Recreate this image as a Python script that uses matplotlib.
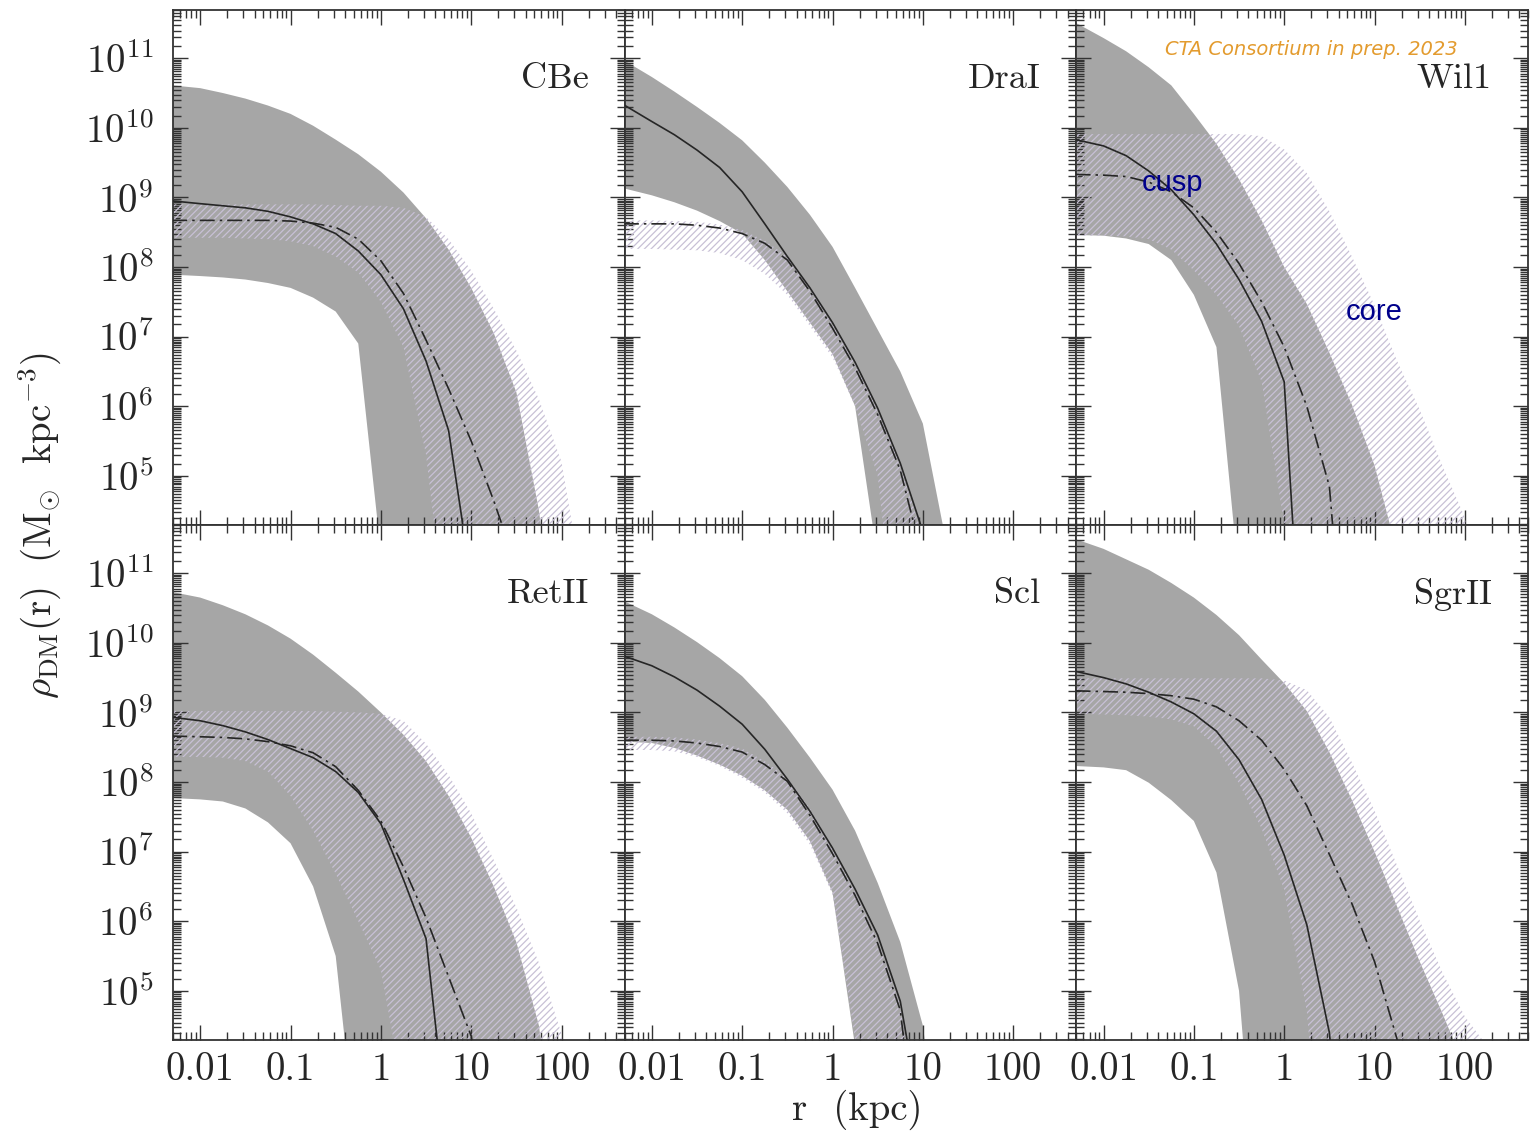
import numpy as np
import matplotlib
matplotlib.use("Agg")
import matplotlib.pyplot as plt
from matplotlib.ticker import LogLocator, NullFormatter

plt.rcParams['font.family'] = 'cmr10'
plt.rcParams['mathtext.fontset'] = 'cm'
plt.rcParams['axes.formatter.use_mathtext'] = True
plt.rcParams['axes.unicode_minus'] = False
plt.rcParams['hatch.linewidth'] = 0.9

# log10(r / kpc) grid shared by every curve
LOG_R = [-2.31, -2.0, -1.75, -1.5, -1.25, -1.0, -0.75, -0.5, -0.25, 0.0, 0.25,
         0.5, 0.75, 1.0, 1.25, 1.5, 1.75, 2.0, 2.25, 2.5, 2.71]

GALAXIES = ['CBe', 'DraI', 'Wil1', 'RetII', 'Scl', 'SgrII']

# log10(rho_DM / Msun kpc^-3); a list that is shorter than
# LOG_R ends below the plot floor and keeps its last value
CUSP_HI = {
    'CBe':   [10.61, 10.57, 10.5, 10.42, 10.32, 10.2, 10.03, 9.83, 9.62, 9.37, 9.07, 8.7, 8.25, 7.7, 7.05, 6.2, 4.5, 2.0],
    'DraI':  [10.97, 10.73, 10.52, 10.3, 10.07, 9.82, 9.5, 9.15, 8.75, 8.29, 7.7, 7.1, 6.5, 5.75, 4.1, 1.0],
    'Wil1':  [11.51, 11.29, 11.1, 10.87, 10.61, 10.2, 9.77, 9.26, 8.67, 8.0, 7.47, 6.77, 6.02, 5.15, 3.9, 1.0],
    'RetII': [10.73, 10.65, 10.54, 10.41, 10.25, 10.06, 9.83, 9.57, 9.3, 9.0, 8.68, 8.3, 7.8, 7.2, 6.5, 5.7, 4.5, 2.0],
    'Scl':   [10.6, 10.41, 10.22, 10.01, 9.78, 9.52, 9.18, 8.78, 8.35, 7.89, 7.3, 6.55, 5.7, 4.5, 2.0],
    'SgrII': [11.49, 11.35, 11.2, 11.05, 10.86, 10.65, 10.4, 10.11, 9.76, 9.42, 9.02, 8.43, 7.74, 7.0, 6.21, 5.42, 4.68, 3.9, 1.0],
}
CUSP_LO = {
    'CBe':   [7.89, 7.87, 7.85, 7.82, 7.77, 7.7, 7.56, 7.36, 6.9, 3.9, 1.0],
    'DraI':  [9.13, 9.03, 8.93, 8.81, 8.66, 8.48, 8.1, 7.65, 7.2, 6.75, 6.0, 3.8, 1.0],
    'Wil1':  [8.46, 8.45, 8.41, 8.33, 8.1, 7.6, 6.85, 3.5, 1.0],
    'RetII': [7.77, 7.75, 7.72, 7.62, 7.42, 7.12, 6.5, 5.5, 2.5, 1.0],
    'Scl':   [8.58, 8.56, 8.49, 8.38, 8.25, 8.09, 7.88, 7.6, 7.15, 6.41, 4.2, 1.0],
    'SgrII': [8.23, 8.21, 8.17, 7.99, 7.74, 7.44, 6.7, 5.0, 1.0],
}
CORE_HI = {
    'CBe':   [8.9, 8.9, 8.9, 8.9, 8.9, 8.9, 8.9, 8.89, 8.88, 8.88, 8.85, 8.72, 8.4, 7.95, 7.4, 6.8, 6.1, 5.2, 3.3, 1.0],
    'DraI':  [8.67, 8.67, 8.66, 8.65, 8.61, 8.53, 8.38, 8.15, 7.72, 7.2, 6.62, 5.97, 5.2, 4.1, 1.0],
    'Wil1':  [9.91, 9.91, 9.91, 9.91, 9.91, 9.91, 9.91, 9.91, 9.88, 9.69, 9.35, 8.8, 8.15, 7.45, 6.65, 5.95, 5.15, 4.4, 2.0],
    'RetII': [9.02, 9.02, 9.02, 9.02, 9.02, 9.02, 9.02, 9.01, 9.0, 8.98, 8.88, 8.55, 8.1, 7.55, 6.88, 6.2, 5.4, 4.38, 2.0],
    'Scl':   [8.65, 8.65, 8.64, 8.61, 8.56, 8.48, 8.3, 8.06, 7.62, 7.05, 6.42, 5.72, 4.8, 2.5],
    'SgrII': [9.49, 9.49, 9.49, 9.49, 9.49, 9.49, 9.49, 9.49, 9.49, 9.46, 9.32, 8.93, 8.28, 7.59, 6.8, 6.01, 5.27, 4.63, 4.2, 2.0],
}
CORE_LO = {
    'CBe':   [8.42, 8.42, 8.42, 8.41, 8.4, 8.37, 8.3, 8.15, 7.92, 7.5, 6.85, 5.3, 2.5, 1.0],
    'DraI':  [8.26, 8.26, 8.25, 8.24, 8.2, 8.1, 7.9, 7.6, 7.15, 6.7, 6.0, 5.0, 2.0],
    'Wil1':  [8.45, 8.45, 8.44, 8.4, 8.25, 7.95, 7.6, 7.15, 6.35, 4.3, 1.0],
    'RetII': [8.36, 8.36, 8.35, 8.3, 8.15, 7.8, 7.3, 6.68, 6.0, 5.3, 3.5, 1.0],
    'Scl':   [8.46, 8.46, 8.44, 8.36, 8.23, 8.06, 7.85, 7.55, 7.1, 6.38, 4.3, 1.0],
    'SgrII': [8.98, 8.97, 8.96, 8.94, 8.9, 8.8, 8.5, 7.98, 7.33, 6.45, 4.7, 1.0],
}
CUSP_MED = {
    'CBe':   [8.95, 8.91, 8.88, 8.85, 8.8, 8.72, 8.62, 8.48, 8.23, 7.89, 7.4, 6.65, 5.65, 3.5, 1.0],
    'DraI':  [10.33, 10.09, 9.9, 9.68, 9.43, 9.08, 8.62, 8.15, 7.7, 7.2, 6.63, 5.97, 5.18, 4.2, 1.0],
    'Wil1':  [9.83, 9.74, 9.6, 9.38, 9.11, 8.75, 8.33, 7.82, 7.22, 6.35, 1.0],
    'RetII': [8.93, 8.88, 8.81, 8.72, 8.61, 8.48, 8.35, 8.15, 7.85, 7.4, 6.6, 5.75, 2.8, 1.0],
    'Scl':   [9.81, 9.67, 9.51, 9.32, 9.09, 8.83, 8.47, 8.04, 7.58, 7.05, 6.46, 5.8, 4.85, 3.0],
    'SgrII': [9.59, 9.5, 9.41, 9.29, 9.15, 8.98, 8.73, 8.32, 7.75, 6.95, 5.95, 4.4, 1.0],
}
CORE_MED = {
    'CBe':   [8.67, 8.67, 8.67, 8.67, 8.67, 8.66, 8.63, 8.57, 8.4, 8.09, 7.62, 6.95, 6.25, 5.5, 4.64, 3.7, 1.0],
    'DraI':  [8.62, 8.62, 8.62, 8.6, 8.56, 8.48, 8.34, 8.1, 7.65, 7.12, 6.55, 5.88, 5.08, 3.8, 1.0],
    'Wil1':  [9.33, 9.32, 9.3, 9.22, 9.08, 8.85, 8.5, 8.05, 7.5, 6.85, 6.0, 4.85, 1.0],
    'RetII': [8.66, 8.65, 8.64, 8.62, 8.58, 8.52, 8.42, 8.22, 7.88, 7.44, 6.78, 6.05, 5.2, 4.35, 2.0],
    'Scl':   [8.6, 8.6, 8.59, 8.56, 8.51, 8.43, 8.25, 8.01, 7.52, 6.97, 6.37, 5.68, 4.72, 2.0],
    'SgrII': [9.31, 9.3, 9.29, 9.27, 9.24, 9.19, 9.08, 8.88, 8.6, 8.18, 7.66, 6.96, 6.25, 5.42, 4.3, 2.0],
}

XTICKS = [0.01, 0.1, 1, 10, 100]
XTICK_LABELS = ['0.01', '0.1', '1', '10', '100']
YTICKS = [1e5, 1e6, 1e7, 1e8, 1e9, 1e10, 1e11]
YTICK_LABELS = [r'$10^{5}$', r'$10^{6}$', r'$10^{7}$', r'$10^{8}$',
                r'$10^{9}$', r'$10^{10}$', r'$10^{11}$']

GRAY = '#a6a6a6'
HATCH = '#c8c0d6'
INK = '#262626'


def full(vals):
    # pad a curve to the whole grid with its last (off-plot) value
    vals = list(vals) + [vals[-1]] * (len(LOG_R) - len(vals))
    return 10.0 ** np.array(vals)


r = 10.0 ** np.array(LOG_R)

fig, axes = plt.subplots(2, 3, figsize=(15.3, 11.34), dpi=100, sharex=True, sharey=True)
fig.subplots_adjust(left=173 / 1530, right=1528 / 1530, top=1 - 9.5 / 1134,
                    bottom=1 - 1039.5 / 1134, wspace=0, hspace=0)

for ax, name in zip(axes.flat, GALAXIES):
    ax.fill_between(r, full(CUSP_LO[name]), full(CUSP_HI[name]),
                    facecolor=GRAY, linewidth=0, zorder=1)
    ax.fill_between(r, full(CORE_LO[name]), full(CORE_HI[name]),
                    facecolor='none', edgecolor=HATCH, hatch='/////',
                    linewidth=0, zorder=2)
    ax.plot(r, full(CUSP_MED[name]), color=INK, lw=1.2, zorder=3)
    ax.plot(r, full(CORE_MED[name]), color=INK, lw=1.2,
            ls=(0, (9, 3, 1.5, 3)), zorder=3)
    ax.text(0.92, 0.865, name, transform=ax.transAxes, ha='right', va='center',
            fontsize=26, color=INK)

    ax.set_xscale('log')
    ax.set_yscale('log')
    for sp in ax.spines.values():
        sp.set_linewidth(1.3)
        sp.set_color('#333333')
    ax.tick_params(which='both', direction='in', top=True, right=True,
                   color='#333333', width=1.0, labelsize=28, labelcolor=INK)
    ax.tick_params(which='major', length=11)
    ax.tick_params(which='minor', length=5.5)
    ax.tick_params(axis='x', pad=9)
    ax.tick_params(axis='y', pad=14)

ax0 = axes[1, 0]
ax0.set_xlim(0.005, 500)
ax0.set_ylim(10 ** 4.3, 10 ** 11.7)
ax0.set_xticks(XTICKS, XTICK_LABELS)
ax0.set_yticks(YTICKS, YTICK_LABELS)
ax0.xaxis.set_minor_locator(LogLocator(base=10, subs=np.arange(2, 10), numticks=100))
ax0.yaxis.set_minor_locator(LogLocator(base=10, subs=np.arange(1.5, 10, 0.5), numticks=100))
ax0.xaxis.set_minor_formatter(NullFormatter())
ax0.yaxis.set_minor_formatter(NullFormatter())

# annotations on the Wil1 panel
ax_w = axes[0, 2]
ax_w.text(10 ** -1.24, 10 ** 9.2, 'cusp', ha='center', va='center', fontsize=21,
          color='#00008b', family='Liberation Sans', zorder=4)
ax_w.text(10 ** 1.0, 10 ** 7.36, 'core', ha='center', va='center', fontsize=21,
          color='#00008b', family='Liberation Sans', zorder=4)
ax_w.text(0.52, 0.923, 'CTA Consortium in prep. 2023', transform=ax_w.transAxes,
          ha='center', va='center', fontsize=14, style='italic',
          color='#e39b2e', family='DejaVu Sans', zorder=4)

fig.text(40 / 1530, 1 - 525 / 1134,
         r'$\rho_{\rm DM}(\rm r)\ \ (\rm M_{\odot}\ \ kpc^{-3})$',
         rotation=90, ha='center', va='center', fontsize=28, color=INK)
fig.text(857 / 1530, 1 - 1110 / 1134, r'r  (kpc)', ha='center', va='center',
         fontsize=28, color=INK)

fig.savefig('out.png', dpi=100)
